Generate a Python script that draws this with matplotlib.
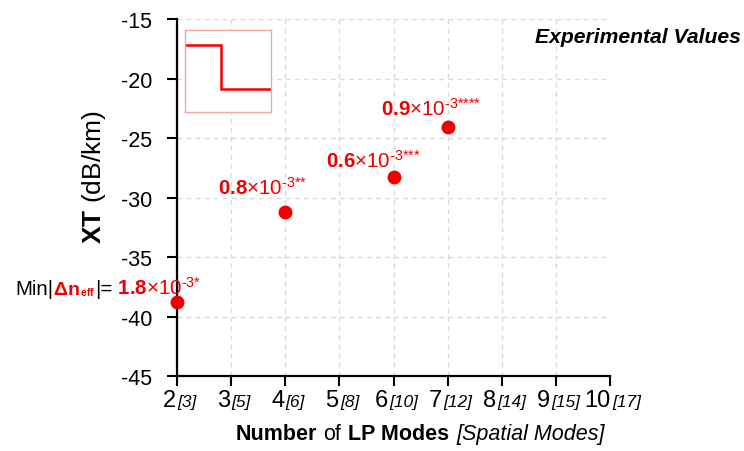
import matplotlib
matplotlib.use("Agg")
import matplotlib.pyplot as plt
from matplotlib.offsetbox import TextArea, HPacker, AnnotationBbox

plt.rcParams.update({
    "font.family": ["Liberation Sans", "DejaVu Sans"],
    "mathtext.fontset": "custom",
    "mathtext.rm": "Liberation Sans",
    "mathtext.bf": "Liberation Sans:bold",
    "mathtext.it": "Liberation Sans:italic",
    "mathtext.sf": "Liberation Sans",
    "axes.unicode_minus": False,
})

# Number of LP modes, spatial modes, measured crosstalk
lp_modes = [2, 4, 6, 7]
xt_db_km = [-38.8, -31.2, -28.3, -24.1]
dn_values = ["1.8", "0.8", "0.6", "0.9"]
dn_stars = ["*", "**", "***", "****"]

tick_lp = [2, 3, 4, 5, 6, 7, 8, 9, 10]
tick_spatial = [3, 5, 6, 8, 10, 12, 14, 15, 17]
yticks = [-45, -40, -35, -30, -25, -20, -15]

# Step-index profile for the inset icon
profile_r = [0.0, 0.42, 0.42, 1.0]
profile_n = [0.82, 0.82, 0.28, 0.28]

RED = "#f00000"
W, H = 744, 452
fig = plt.figure(figsize=(W / 100, H / 100), dpi=100)
ax = fig.add_axes([177 / W, 1 - 377 / H, (610 - 177) / W, (377 - 20) / H])


def dn_label(value, stars):
    # bold mantissa, x10 and a superscript exponent with plain hyphen and grouped stars
    sup = "{\u2010}3" + "".join("{*}" for _ in stars)
    return r"$\mathbf{%s}$×10$^{%s}$" % (value, sup)


ax.set_xlim(2, 10)
ax.set_ylim(-45, -15)
ax.set_xticks(tick_lp)
ax.set_xticklabels([])
ax.set_yticks(yticks)
ax.set_yticklabels([str(v) for v in yticks], fontsize=15.5)
ax.tick_params(axis="y", length=7, width=1.5, pad=11)
ax.tick_params(axis="x", length=7, width=1.5)

for s in ("top", "right"):
    ax.spines[s].set_visible(False)
for s in ("left", "bottom"):
    ax.spines[s].set_linewidth(1.6)

ax.grid(True, color="#dadada", linestyle=(0, (3.5, 3)), linewidth=1.0)
ax.set_axisbelow(True)

ax.plot(lp_modes, xt_db_km, "o", color=RED, markersize=9, clip_on=False, zorder=5)

# X tick labels: LP modes with spatial modes in brackets
for lp, sp in zip(tick_lp, tick_spatial):
    box = HPacker(children=[
        TextArea(str(lp), textprops=dict(fontsize=17)),
        TextArea(f"[{sp}]", textprops=dict(fontsize=12.5, style="italic")),
    ], align="baseline", pad=0, sep=1)
    ab = AnnotationBbox(box, (lp, -45), xybox=(3, -13), boxcoords="offset pixels",
                        box_alignment=(0.5, 1.0), frameon=False,
                        annotation_clip=False)
    ax.add_artist(ab)

# Delta n_eff annotations (label baseline offsets in pixels above each dot)
label_rise = [18, 10, 12]
for x, y, v, st, rise in zip(lp_modes[1:], xt_db_km[1:], dn_values[1:],
                             dn_stars[1:], label_rise):
    ax.annotate(dn_label(v, st), (x, y),
                xytext=(-67, rise), textcoords="offset pixels",
                color=RED, fontsize=14.8, ha="left", va="baseline",
                annotation_clip=False)

# First point carries the descriptive label
first = HPacker(children=[
    TextArea("Min|", textprops=dict(fontsize=14.8, color="black")),
    TextArea(r"$\mathbf{\Delta n}$", textprops=dict(fontsize=14, color=RED)),
    TextArea(r"${}_{\mathbf{eff}}$", textprops=dict(fontsize=11, color=RED)),
    TextArea("|=", textprops=dict(fontsize=14.8, color="black")),
    TextArea(" " + dn_label(dn_values[0], dn_stars[0]),
             textprops=dict(fontsize=14.8, color=RED)),
], align="baseline", pad=0, sep=0)
ab = AnnotationBbox(first, (lp_modes[0], xt_db_km[0]), xybox=(-162, 4),
                    boxcoords="offset pixels", box_alignment=(0, 0),
                    frameon=False, annotation_clip=False)
ax.add_artist(ab)

# X axis title with mixed weights and an italic bracket part
xlab = HPacker(children=[
    TextArea("Number", textprops=dict(fontsize=15.5, fontweight="bold")),
    TextArea("of", textprops=dict(fontsize=15.5)),
    TextArea("LP Modes", textprops=dict(fontsize=15.5, fontweight="bold")),
    TextArea("[Spatial Modes]", textprops=dict(fontsize=15.5, style="italic")),
], align="baseline", pad=0, sep=5)
fig.add_artist(AnnotationBbox(xlab, (420 / W, 1 - 435 / H), xycoords="figure fraction",
                              box_alignment=(0.5, 0.5), frameon=False))

ax.set_ylabel(r"$\mathbf{XT}$ (dB/km)", fontsize=19)
ax.yaxis.set_label_coords(-0.16, 0.56)

fig.text(741 / W, 1 - 43 / H, "Experimental Values", fontsize=15.2,
         fontweight="bold", style="italic", ha="right", va="baseline")

# Inset icon: step-index refractive profile
ins = fig.add_axes([185 / W, 1 - 113 / H, 86 / W, 82 / H])
ins.plot(profile_r, profile_n, color=RED, linewidth=1.8, solid_joinstyle="miter")
ins.set_xlim(0, 1)
ins.set_ylim(0, 1)
ins.set_xticks([])
ins.set_yticks([])
for s in ins.spines.values():
    s.set_color("#f5a5a5")
    s.set_linewidth(1.0)
ins.set_facecolor("white")

fig.savefig("out.png", dpi=100)
